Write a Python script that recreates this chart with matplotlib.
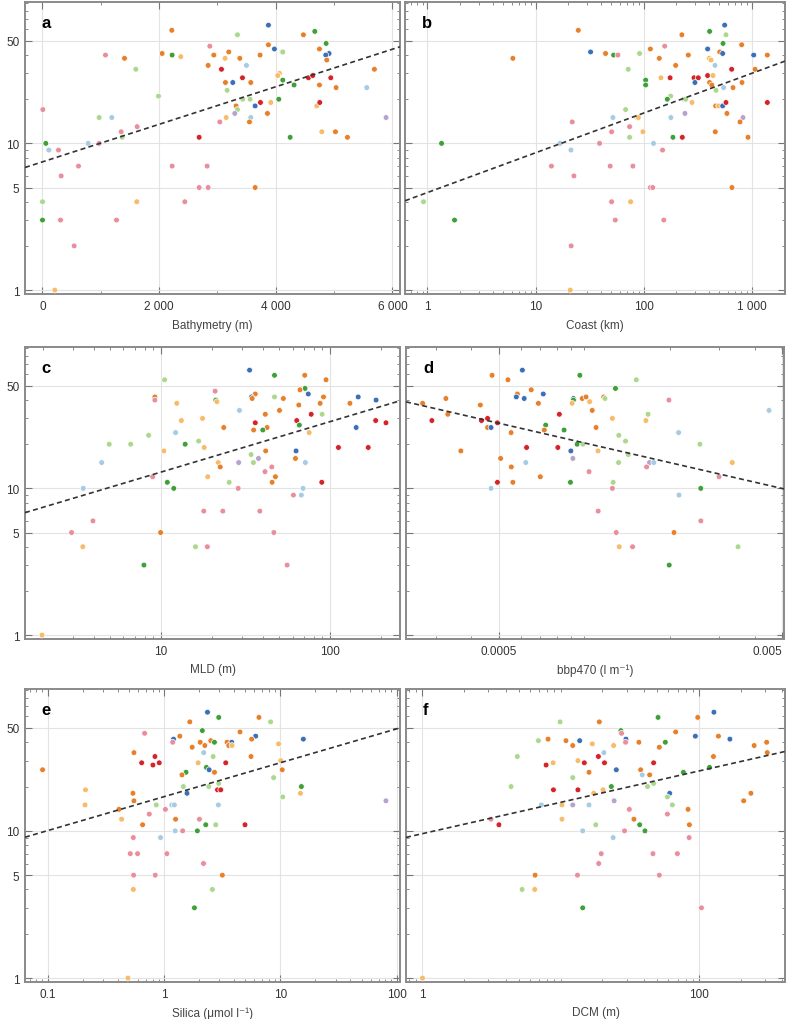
import matplotlib.pyplot as plt
import numpy as np

plt.rcParams['font.family'] = ['Liberation Sans', 'DejaVu Sans']

# colour codes used in the point lists
palette = {'B': '#3b6fb6', 'LB': '#a6cbe3', 'G': '#3fa03a', 'LG': '#acd88e',
           'R': '#d4242a', 'P': '#e88e9c', 'O': '#e7802b', 'LO': '#f7bb6a',
           'V': '#b7a1cf'}

# a - bathymetry
bathy_x = [3874, 2217, 3343, 4669, 4474, 4863, 2869, 3874, 3977, 4114, 4120, 4749, 4914, 4857,
           4874, 2051, 2223, 2371, 1080, 1406, 2937, 3194, 3131, 3383, 3731, 1600, 2840, 3069,
           3497, 3429, 4063, 4034, 4560, 4634, 4943, 4120, 3137, 3263, 3571, 4749, 5691, 5034,
           5560, 4314, 3166, 1989, 3434, 3560, 4051, 3737, 3914, 3646, 3320, 4703, 4754, 3343,
           3297, 3857, 6, 971, 1189, 3149, 3571, 5891, 3040, 3549, 1623, 1349, 1366, 4789, 5023,
           2686, 4246, 5229, 57, 783, 971, 109, 274, 617, 2223, 2823, 320, 2686, 2840, 3646, 0,
           1617, 2440, 0, 309, 1269, 543, 211]
bathy_y = [64, 59, 55, 58, 55, 48, 46, 47, 44, 42, 42, 44, 41, 40,
           37, 41, 40, 39, 40, 38, 40, 42, 38, 38, 40, 32, 34, 32,
           34, 28, 30, 29, 28, 29, 28, 27, 26, 26, 26, 25, 32, 24,
           24, 25, 23, 21, 20, 20, 20, 19, 19, 18, 18, 18, 19, 17,
           16, 16, 17, 15, 15, 15, 15, 15, 14, 14, 13, 12, 11, 12, 12,
           11, 11, 11, 10, 10, 10, 9, 9, 7, 7, 7, 6, 5, 5, 5, 4,
           4, 4, 3, 3, 3, 2, 1]
bathy_c = ['B', 'O', 'LG', 'G', 'O', 'G', 'P', 'O', 'B', 'B', 'LG', 'O', 'B', 'B',
           'O', 'O', 'G', 'LO', 'P', 'O', 'O', 'O', 'LO', 'O', 'O', 'LG', 'O', 'R',
           'LB', 'R', 'LO', 'LO', 'R', 'R', 'R', 'G', 'O', 'B', 'O', 'O', 'O', 'O',
           'LB', 'G', 'LG', 'LG', 'LG', 'LG', 'G', 'R', 'LO', 'B', 'O', 'LO', 'R', 'LG',
           'V', 'O', 'P', 'LG', 'LB', 'LO', 'LB', 'V', 'P', 'O', 'P', 'P', 'LG', 'LO', 'O',
           'R', 'G', 'O', 'G', 'LB', 'P', 'LB', 'P', 'P', 'P', 'P', 'P', 'P', 'P', 'O', 'LG',
           'LO', 'P', 'G', 'P', 'P', 'P', 'LO']

# b - distance to coast
coast_x = [559, 24.8, 225, 406, 575, 540, 156, 803, 389, 503, 536, 115, 32.2, 44.3, 52.6, 57.7,
           91.4, 258, 1037, 1387, 6.16, 139, 403, 418, 71.8, 197, 455, 649, 1067, 144, 175,
           291, 319, 389, 436, 297, 406, 425, 809, 547, 668, 104, 104, 177, 165, 235, 244,
           465, 279, 462, 492, 536, 575, 1387, 67.9, 587, 240, 86.4, 89, 51.8, 178, 826,
           21.8, 73.9, 775, 50.4, 98.2, 458, 73.9, 186, 227, 919, 1.35, 16.8, 39, 123, 21.2,
           149, 14, 48.9, 79.3, 22.6, 115, 121, 653, 0.92, 50.4, 75.5, 1.78, 54.5, 153, 21.3,
           20.9]
coast_y = [64, 59, 55, 58, 55, 48, 46, 47, 44, 42, 41, 44, 42, 41, 40, 40,
           41, 40, 40, 40, 38, 38, 38, 37, 32, 34, 34, 32, 32, 28, 28,
           28, 28, 29, 29, 26, 26, 25, 26, 24, 24, 27, 25, 21, 20, 20, 20,
           23, 19, 18, 18, 18, 19, 19, 17, 16, 16, 15, 15, 15, 15, 15,
           14, 13, 14, 12, 12, 12, 11, 11, 11, 11, 10, 10, 10, 10, 9,
           9, 7, 7, 7, 6, 5, 5, 5, 4, 4, 4, 3, 3, 3, 2,
           1]
coast_c = ['B', 'O', 'O', 'G', 'LG', 'G', 'P', 'O', 'B', 'O', 'B', 'O', 'B', 'O', 'G', 'P',
           'LG', 'O', 'B', 'O', 'O', 'O', 'LO', 'LO', 'LG', 'O', 'LB', 'R', 'O', 'LO', 'R',
           'R', 'R', 'R', 'LO', 'B', 'O', 'O', 'O', 'LB', 'O', 'G', 'G', 'LG', 'G', 'LG', 'LG',
           'LG', 'LO', 'O', 'LO', 'B', 'R', 'R', 'LG', 'O', 'V', 'LO', 'LO', 'LB', 'LB', 'V',
           'P', 'P', 'O', 'P', 'LO', 'O', 'LG', 'G', 'R', 'O', 'G', 'LB', 'P', 'LB', 'LB',
           'P', 'P', 'P', 'P', 'P', 'P', 'P', 'O', 'LG', 'P', 'LO', 'G', 'P', 'P', 'P',
           'LO']

# c - mixed layer depth
mld_x = [33.4, 46.9, 70.8, 94.6, 10.5, 71.1, 66.4, 20.9, 36.1, 74.3, 34.3, 34.6, 9.2, 9.2, 21.1,
         21.4, 46.9, 52.9, 91.4, 146.6, 187, 87.3, 65.3, 131, 12.4, 29.1, 50.2, 41.4, 89.7,
         77.3, 13.2, 17.6, 36.1, 63.5, 186, 214, 65.8, 23.5, 42.4, 35.3, 40, 75.2, 142.6,
         8.45, 12.2, 4.94, 6.62, 13.9, 16.7, 18, 10.4, 41.6, 62.9, 112, 168, 34.1, 37.7, 62.4,
         4.46, 21.8, 28.8, 35.2, 71.4, 22.4, 45.2, 41.2, 47.5, 8.93, 18.9, 10.9, 25.3, 45.4,
         89.3, 11.9, 28.6, 69.2, 3.47, 60.7, 67.6, 17.9, 23.2, 38.4, 3.96, 2.96, 9.95, 46.5,
         3.45, 16, 18.8, 7.93, 55.7, 1.98]
mld_y = [64, 59, 59, 55, 55, 48, 47, 46, 44, 44, 42, 41, 42, 40, 40,
         39, 42, 41, 42, 42, 40, 38, 37, 38, 38, 34, 34, 32, 32,
         32, 29, 30, 28, 29, 29, 28, 27, 26, 26, 25, 25, 24, 26,
         23, 24, 20, 20, 20, 21, 19, 18, 18, 18, 19, 19, 17, 16, 16,
         15, 15, 15, 15, 15, 14, 14, 13, 12, 12, 12, 11, 11, 11,
         11, 10, 10, 10, 10, 9, 9, 7, 7, 7, 6, 5, 5, 5,
         4, 4, 4, 3, 3, 1]
mld_c = ['B', 'G', 'O', 'O', 'LG', 'G', 'O', 'P', 'O', 'B', 'B', 'O', 'O', 'P', 'G',
         'LO', 'LG', 'O', 'O', 'B', 'B', 'O', 'O', 'O', 'LO', 'LB', 'O', 'O', 'LG',
         'R', 'LO', 'LO', 'R', 'R', 'R', 'R', 'G', 'O', 'O', 'O', 'G', 'LO', 'B',
         'LG', 'LB', 'LG', 'LG', 'G', 'LG', 'LO', 'LO', 'O', 'B', 'R', 'R', 'LG', 'V', 'O',
         'LB', 'LO', 'V', 'LG', 'LB', 'O', 'P', 'P', 'O', 'P', 'LO', 'G', 'LG', 'O',
         'R', 'G', 'P', 'LB', 'LB', 'P', 'LB', 'P', 'P', 'P', 'P', 'P', 'O', 'P',
         'LO', 'LG', 'P', 'G', 'P', 'LO']

# d - particle backscatter at 470 nm
bbp_x = [0.000605, 0.000965, 0.000473, 0.000538, 0.001527, 0.001289, 0.00065, 0.000581,
         0.000717, 0.000576, 0.000614, 0.000689, 0.000325, 0.000269, 0.00043, 0.000916,
         0.000916, 0.000906, 0.000984, 0.001015, 0.001045, 0.001172, 0.001184, 0.001067,
         0.00199, 0.00033, 0.00029, 0.000434, 0.000456, 0.000494, 0.000456, 0.000469,
         0.000817, 0.001257, 0.001651, 0.00168, 0.000731, 0.000723, 0.000849, 0.001101,
         0.000552, 0.001324, 0.001399, 0.002153, 0.000944, 0.000989, 0.00256, 0.000367,
         0.000626, 0.000807, 0.000897, 0.001119, 0.00143, 0.000912, 0.000507, 0.000622,
         0.001322, 0.0017, 0.00176, 0.00333, 0.000553, 0.00166, 0.00104, 0.00299, 0.0007,
         0.000494, 0.00056, 0.000894, 0.001265, 0.000469, 0.001257, 0.002578, 0.00216,
         0.00449, 0.00112, 0.00258, 0.001297, 0.002074, 0.001329, 0.001481, 0.00349, 0.001995]
bbp_y = [64, 59, 59, 55, 55, 48, 47, 44,
         44, 42, 41, 38, 41, 38, 37, 41,
         40, 38, 41, 42, 39, 42, 41, 34,
         40, 32, 29, 29, 30, 28, 26, 26,
         32, 30, 29, 32, 27, 25, 25, 26,
         24, 23, 21, 24, 20, 20, 20, 18,
         19, 19, 18, 18, 17, 16, 16, 15,
         15, 15, 15, 15, 14, 14, 13, 12, 12,
         11, 11, 11, 11, 10, 10, 10, 9,
         34, 7, 6, 5, 5, 4, 4, 4, 3]
bbp_c = ['B', 'G', 'O', 'O', 'LG', 'G', 'O', 'O',
         'B', 'B', 'B', 'O', 'O', 'O', 'O', 'B',
         'G', 'LO', 'O', 'O', 'LO', 'O', 'LG', 'O',
         'P', 'O', 'R', 'R', 'R', 'R', 'O', 'B',
         'R', 'LO', 'LO', 'LG', 'G', 'O', 'G', 'O',
         'O', 'LG', 'LG', 'LB', 'G', 'LG', 'LG', 'O',
         'R', 'R', 'B', 'LO', 'LG', 'V', 'O', 'LB',
         'LG', 'V', 'LB', 'LO', 'O', 'P', 'P', 'P', 'O',
         'R', 'O', 'G', 'LG', 'LB', 'P', 'G', 'LB',
         'LB', 'P', 'P', 'P', 'O', 'LO', 'P', 'LG', 'G']

# e - silica
silica_x = [2.37, 2.96, 6.56, 8.26, 1.67, 0.683, 2.14, 4.51, 1.37, 6.15, 1.21, 1.19, 2.53, 2.05,
            2.72, 3.49, 3.83, 3.61, 3.85, 2.25, 5.68, 1.75, 9.68, 15.8, 2.2, 0.553, 2.65, 5.61,
            0.838, 0.644, 0.805, 0.912, 3.40, 1.97, 10.1, 0.0906, 2.32, 2.45, 2.72, 1.55, 1.43,
            10.4, 8.77, 1.47, 2.43, 2.96, 1.58, 2.89, 3.08, 15.2, 10.5, 14.9, 81, 0.212, 0.21,
            0.542, 0.553, 0.411, 0.433, 0.749, 0.86, 1.17, 1.23, 2.94, 1.03, 1.26, 2.02, 0.656,
            2.29, 2.79, 4.98, 0.936, 1.25, 1.45, 1.94, 0.546, 0.514, 0.594, 1.06, 2.19, 0.549,
            0.843, 3.18, 0.546, 2.61, 1.83, 0.491]
silica_y = [64, 59, 59, 55, 55, 46, 48, 47, 44, 44, 42, 40, 41, 40,
            40, 40, 40, 38, 38, 38, 42, 37, 39, 42, 34, 34, 32, 32,
            32, 29, 28, 29, 29, 29, 30, 26, 27, 26, 25, 25, 24,
            26, 23, 20, 20, 21, 18, 19, 19, 20, 17, 18, 16, 19, 15,
            18, 16, 14, 12, 13, 15, 15, 15, 15, 14, 12, 12, 11,
            11, 11, 11, 9, 10, 10, 10, 9, 7, 7, 7, 6, 5,
            5, 5, 4, 4, 3, 1]
silica_c = ['B', 'G', 'O', 'LG', 'O', 'P', 'G', 'O', 'O', 'B', 'B', 'P', 'O', 'O',
            'G', 'O', 'B', 'O', 'LO', 'O', 'O', 'O', 'LO', 'B', 'LB', 'O', 'LG', 'O',
            'R', 'R', 'R', 'R', 'R', 'LO', 'LO', 'O', 'G', 'B', 'O', 'G', 'O',
            'O', 'LG', 'LG', 'LG', 'LG', 'B', 'R', 'R', 'G', 'LG', 'LO', 'V', 'LO', 'LO',
            'O', 'O', 'O', 'LO', 'P', 'LG', 'LB', 'LB', 'LB', 'P', 'O', 'P', 'O',
            'G', 'LG', 'R', 'LB', 'LB', 'P', 'G', 'P', 'P', 'P', 'P', 'P', 'P',
            'P', 'O', 'LO', 'LG', 'G', 'LO']

# f - depth of chlorophyll maximum
dcm_x = [128, 50.5, 97.8, 9.89, 19, 27.2, 27.5, 67.7, 94, 138, 167, 29.6, 29.4, 6.89, 8.09, 10.9,
         13.7, 12.2, 16.9, 24.1, 36.7, 57, 51.6, 250, 308, 311, 127, 4.85, 20.5, 18.7, 20.7,
         14.8, 7.83, 8.8, 13.3, 46.9, 16, 25.2, 37.8, 43.9, 38.8, 119, 77, 12.2, 23.2, 42.4,
         46.9, 4.37, 8.85, 13.3, 17.3, 20.2, 61.3, 59, 64.1, 210, 237, 7.24, 10.2, 12.2, 16,
         24.3, 31.3, 83.2, 59, 3.13, 10.2, 33.8, 3.57, 17.9, 37.2, 85.1, 14.4, 28.9, 40.6,
         23.9, 84.7, 19.6, 46.4, 69.7, 18.8, 6.52, 13.2, 51.6, 5.25, 6.48, 14.4, 104, 1]
dcm_y = [64, 59, 59, 55, 55, 48, 46, 47, 44, 44, 42, 42, 40, 41, 42, 41,
         41, 38, 39, 38, 40, 40, 37, 38, 40, 34, 32, 32, 34, 32, 29,
         29, 28, 29, 30, 29, 25, 26, 26, 24, 24, 27, 25, 23, 20, 20,
         21, 20, 19, 19, 18, 19, 18, 17, 15, 16, 18, 15, 15, 15, 15,
         16, 14, 14, 13, 12, 12, 12, 11, 11, 11, 11, 10, 10, 10,
         9, 9, 7, 7, 7, 6, 5, 5, 5, 4, 4, 3, 3, 1]
dcm_c = ['B', 'G', 'O', 'LG', 'O', 'G', 'P', 'O', 'B', 'O', 'B', 'B', 'P', 'LG', 'O', 'O',
         'B', 'O', 'LO', 'LO', 'O', 'G', 'O', 'O', 'O', 'O', 'O', 'LG', 'LB', 'R', 'R',
         'R', 'R', 'LO', 'LO', 'R', 'O', 'B', 'O', 'O', 'LB', 'G', 'G', 'LG', 'G', 'LG',
         'LG', 'LG', 'R', 'R', 'LO', 'LO', 'B', 'LG', 'LG', 'O', 'O', 'LB', 'LO', 'V', 'LB',
         'V', 'P', 'O', 'P', 'P', 'LO', 'O', 'R', 'LG', 'G', 'O', 'LB', 'P', 'G',
         'LB', 'P', 'P', 'P', 'P', 'P', 'O', 'P', 'P', 'LG', 'LO', 'G', 'P', 'LO']

# regression lines, log10(y) = intercept + slope * (x or log10 x)
fit_intercept = [0.874, 0.665, 0.767, -0.025, 1.232, 0.981]
fit_slope = [1.28e-4, 0.271, 0.344, -0.445, 0.2305, 0.213]

W, H = 788, 1020
fig = plt.figure(figsize=(W / 100, H / 100), dpi=100)


def add_ax(l, t, r, b):
    return fig.add_axes([l / W, 1 - b / H, (r - l) / W, (b - t) / H])


panels = [
    # letter, box, x, y, c, xlabel, log x, xlim, major ticks, tick labels, minor ticks
    ('a', (25, 3, 400, 295), bathy_x, bathy_y, bathy_c, 'Bathymetry (m)', False,
     (-300, 6130), [0, 2000, 4000, 6000], ['0', '2 000', '4 000', '6 000'],
     [1000, 3000, 5000]),
    ('b', (405, 3, 785, 295), coast_x, coast_y, coast_c, 'Coast (km)', True,
     (0.62, 2020), [1, 10, 100, 1000], ['1', '10', '100', '1 000'], None),
    ('c', (25, 348, 400, 640), mld_x, mld_y, mld_c, 'MLD (m)', True,
     (1.57, 259), [10, 100], ['10', '100'], None),
    ('d', (406, 348, 784, 640), bbp_x, bbp_y, bbp_c, 'bbp470 (l m\u207b\u00b9)', True,
     (0.000235, 0.00507), [0.0005, 0.005], ['0.0005', '0.005'], None),
    ('e', (25, 690, 400, 983), silica_x, silica_y, silica_c,
     'Silica (\u03bcmol l\u207b\u00b9)', True,
     (0.064, 107), [0.1, 1, 10, 100], ['0.1', '1', '10', '100'], None),
    ('f', (406, 690, 785, 983), dcm_x, dcm_y, dcm_c, 'DCM (m)', True,
     (0.76, 418), [1, 100], ['1', '100'], None),
]

log_minor = [m * 10.0 ** e for e in range(-5, 4) for m in range(1, 10)]
y_minor = [2, 3, 4, 6, 7, 8, 9, 20, 30, 40, 60, 70, 80, 90]

for i, (letter, box, xs, ys, cs, xlabel, logx, xlim, xt, xtl, xminor) in enumerate(panels):
    ax = add_ax(*box)
    ax.set_yscale('log')
    if logx:
        ax.set_xscale('log')
    ax.set_xlim(*xlim)
    ax.set_ylim(0.94, 92)

    ax.scatter(xs, ys, s=17, c=[palette[k] for k in cs], edgecolors='white',
               linewidths=0.5, zorder=3)

    # fitted line
    if logx:
        lx = np.logspace(np.log10(xlim[0]), np.log10(xlim[1]), 50)
        ly = 10 ** (fit_intercept[i] + fit_slope[i] * np.log10(lx))
    else:
        lx = np.linspace(xlim[0], xlim[1], 50)
        ly = 10 ** (fit_intercept[i] + fit_slope[i] * lx)
    ax.plot(lx, ly, color='#333333', lw=1.2, ls=(0, (3, 2)), zorder=4)

    ax.set_xticks(xt)
    ax.set_xticklabels(xtl)
    if xminor is None:
        xminor = [v for v in log_minor if xlim[0] < v < xlim[1] and v not in xt]
    ax.set_xticks(xminor, minor=True)
    ax.set_xticklabels([], minor=True)

    ax.set_yticks([1, 5, 10, 50])
    ax.set_yticklabels(['1', '5', '10', '50'])
    ax.set_yticks(y_minor, minor=True)
    ax.set_yticklabels([], minor=True)

    ax.grid(True, which='major', color='#e3e3e3', lw=0.8, zorder=0)
    ax.set_axisbelow(True)
    ax.tick_params(which='both', direction='in', top=True, right=True,
                   color='#777777', labelsize=8.5, labelcolor='#333333')
    ax.tick_params(which='major', length=5, width=0.8, pad=4)
    ax.tick_params(which='minor', length=2.5, width=0.6)
    if letter in 'bdf':
        ax.tick_params(labelleft=False)
    if letter == 'd':
        # last label sits flush with the right edge
        ax.get_xticklabels()[-1].set_horizontalalignment('right')
    for sp in ax.spines.values():
        sp.set_color('#8a8a8a')
        sp.set_linewidth(1.4)

    ax.set_xlabel(xlabel, fontsize=8.5, color='#444444', labelpad=5)
    ax.text(0.045, 0.955, letter, transform=ax.transAxes, fontsize=12,
            fontweight='bold', va='top', ha='left', zorder=5)

fig.savefig('out.png', dpi=100)
